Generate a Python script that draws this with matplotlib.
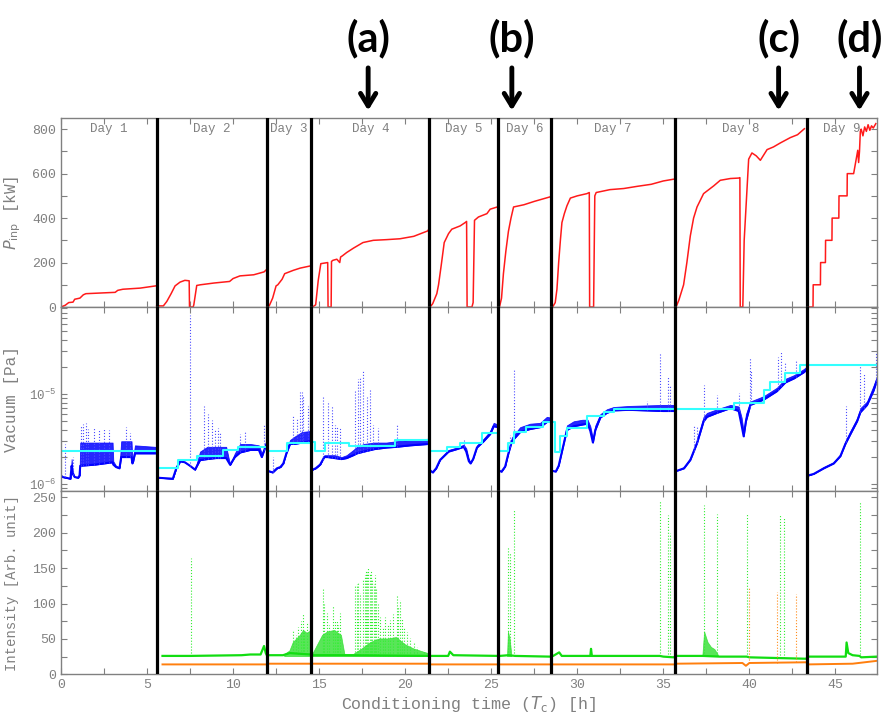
import numpy as np
import matplotlib.pyplot as plt
from matplotlib.ticker import MultipleLocator, LogLocator, NullFormatter

plt.rcParams['font.family'] = ['Liberation Mono', 'DejaVu Sans Mono']
plt.rcParams['xtick.direction'] = 'in'
plt.rcParams['ytick.direction'] = 'in'

grey = '#808080'

# day boundaries [h] and names
day_edges = [5.56, 11.96, 14.55, 21.4, 25.42, 28.47, 35.66, 43.35]
day_names = ['Day 1', 'Day 2', 'Day 3', 'Day 4', 'Day 5', 'Day 6', 'Day 7', 'Day 8', 'Day 9']
t_end = 47.4

# input power [kW]
power_t = [0, 0.25, 0.45, 0.7, 0.8, 1.1, 1.3, 1.45, 2.3, 3.15, 3.3, 3.6, 4.6, 5.5,
           5.56, 5.95, 6.15, 6.4, 6.63, 6.92, 7.2, 7.45, 7.47, 7.68, 7.72, 7.89, 8.1, 8.9, 9.8, 10.0, 10.4, 11.2, 11.8, 11.94,
           12.0, 12.1, 12.3, 12.5, 12.6, 12.75, 12.85, 13.0, 13.5, 13.9, 14.5,
           14.62, 14.8, 14.95, 15.1, 15.5, 15.52, 15.7, 15.72, 15.8, 16.03, 16.2, 16.25, 16.35, 16.6, 17.0, 17.55, 18.15, 18.9, 19.7, 20.5, 20.9, 21.3, 21.38,
           21.45, 21.6, 21.84, 21.94, 22.1, 22.27, 22.52, 22.71, 23.2, 23.49, 23.57, 23.6, 23.88, 23.95, 24.03, 24.26, 24.75, 24.94, 25.35,
           25.48, 25.6, 25.71, 25.85, 26.0, 26.15, 26.3, 26.9, 27.5, 28.4,
           28.57, 28.72, 28.82, 28.92, 29.02, 29.11, 29.25, 29.4, 29.6, 30.0, 30.56, 30.7, 30.72, 30.95, 31.02, 31.1, 31.9, 32.7, 33.5, 34.3, 35.0, 35.6,
           35.74, 35.9, 36.18, 36.37, 36.57, 36.76, 36.96, 37.34, 37.93, 38.31, 38.9, 39.38, 39.45, 39.47, 39.62, 39.7, 39.96, 40.15, 40.4, 40.64, 41.03, 41.4, 41.8, 42.38, 42.8, 43.2,
           43.42, 43.7, 43.71, 44.13, 44.14, 44.42, 44.43, 44.8, 44.81, 45.2, 45.21, 45.68, 45.69, 46.06, 46.3, 46.35, 46.4, 46.45, 46.5, 46.6, 46.7, 46.8, 46.9, 47.0, 47.1, 47.2, 47.35]
power_kw = [0, 8, 20, 22, 35, 40, 55, 60, 63, 66, 75, 80, 85, 95,
            5, 5, 25, 60, 95, 112, 120, 118, 0, 0, 10, 97, 100, 108, 115, 128, 140, 145, 158, 168,
            0, 5, 40, 95, 100, 115, 125, 150, 165, 175, 185,
            0, 10, 120, 195, 200, 0, 0, 205, 210, 215, 200, 225, 230, 245, 265, 290, 300, 303, 307, 318, 330, 342, 350,
            0, 15, 60, 100, 190, 290, 330, 350, 365, 380, 385, 0, 0, 20, 390, 405, 420, 440, 450,
            0, 40, 150, 250, 340, 400, 450, 460, 475, 495,
            0, 20, 80, 200, 300, 380, 420, 455, 490, 500, 510, 515, 0, 0, 500, 515, 528, 533, 543, 552, 567, 575,
            0, 30, 100, 200, 320, 400, 450, 510, 545, 570, 578, 580, 582, 0, 0, 300, 665, 693, 680, 660, 708, 720, 738, 762, 775, 802,
            0, 0, 100, 100, 200, 200, 300, 300, 400, 400, 500, 500, 600, 600, 705, 650, 700, 790, 800, 770, 810, 790, 820, 795, 815, 805, 825]

# vacuum, lower edge and upper edge of the noisy trace [1e-6 Pa]
vac_t = [0.0, 0.1, 0.55, 0.62, 0.68, 0.8, 1.0, 1.08, 1.12, 2.0, 3.0, 3.04, 3.2, 3.4, 3.5, 4.1, 4.15, 4.2, 4.3, 5.47,
         5.6, 6.5, 6.7, 6.93, 7.2, 7.5, 7.79, 8.08, 8.5, 9.0, 9.6, 9.83, 10.1, 10.41, 11.0, 11.5, 11.67, 11.94,
         12.05, 12.3, 12.55, 12.75, 12.92, 13.1, 13.31, 13.6, 14.0, 14.5,
         14.62, 14.8, 15.06, 15.3, 15.5, 15.9, 16.3, 16.6, 16.99, 17.2, 17.6, 18.2, 18.9, 19.5, 20.3, 21.38,
         21.5, 21.6, 21.8, 22.03, 22.52, 23.0, 23.4, 23.55, 23.7, 23.8, 23.95, 24.17, 24.56, 24.94, 25.14, 25.4,
         25.5, 25.6, 25.81, 26.0, 26.2, 26.68, 27.26, 27.84, 28.23, 28.45,
         28.6, 28.75, 28.92, 29.11, 29.4, 29.79, 30.3, 30.6, 30.76, 30.91, 31.05, 31.34, 31.72, 32.11, 33.0, 34.0, 35.0, 35.6,
         35.75, 36.2, 36.57, 36.96, 37.34, 37.54, 38.12, 38.9, 39.38, 39.55, 39.67, 39.8, 40.06, 40.83, 41.6, 42.09, 42.6, 43.16, 43.3,
         43.42, 43.74, 44.32, 44.9, 45.29, 45.58, 45.87, 46.26, 46.45, 46.84, 47.22, 47.4]
vac_lo = [1.25, 1.2, 1.15, 1.6, 1.3, 1.2, 1.18, 1.25, 1.6, 1.65, 1.75, 1.65, 1.55, 1.5, 2.0, 2.0, 1.7, 1.8, 2.2, 2.2,
          1.18, 1.15, 1.5, 1.8, 1.75, 1.6, 1.45, 1.85, 1.9, 1.95, 1.95, 1.64, 2.0, 2.25, 2.4, 2.4, 2.0, 2.8,
          1.4, 1.35, 1.5, 1.55, 1.7, 2.2, 2.8, 2.8, 2.9, 3.0,
          1.45, 1.5, 1.65, 2.0, 2.0, 1.95, 1.9, 1.95, 2.1, 2.2, 2.3, 2.45, 2.55, 2.6, 2.7, 2.8,
          1.4, 1.35, 1.5, 1.86, 2.3, 2.45, 2.6, 2.3, 1.8, 1.7, 1.9, 2.55, 3.0, 3.6, 4.4, 4.3,
          1.4, 1.38, 1.57, 2.2, 3.0, 3.8, 4.1, 4.3, 4.9, 5.0,
          1.4, 1.38, 1.6, 2.3, 4.0, 4.4, 4.6, 4.7, 3.9, 2.9, 4.0, 5.5, 6.2, 6.6, 6.7, 6.6, 6.5, 6.5,
          1.4, 1.5, 1.86, 2.86, 5.0, 5.6, 6.2, 7.0, 6.5, 4.5, 3.4, 5.0, 7.6, 8.7, 10.8, 13.5, 15.0, 17.5, 18.5,
          1.25, 1.3, 1.5, 1.7, 2.05, 2.8, 3.6, 5.0, 6.3, 7.6, 11.0, 14.0]
vac_hi = [1.25, 1.2, 1.15, 1.9, 1.4, 1.2, 1.18, 1.25, 2.9, 2.9, 2.9, 1.8, 1.6, 1.55, 3.0, 3.0, 1.8, 2.0, 2.7, 2.6,
          1.18, 1.15, 1.5, 1.8, 1.75, 1.6, 1.45, 2.3, 2.6, 2.6, 2.6, 1.64, 2.2, 2.8, 2.8, 2.7, 2.2, 2.8,
          1.4, 1.35, 1.5, 1.55, 1.7, 2.4, 3.1, 3.4, 3.8, 3.9,
          1.45, 1.5, 1.65, 2.1, 2.1, 2.1, 2.0, 2.1, 2.4, 2.6, 2.8, 2.9, 2.9, 3.0, 3.1, 3.2,
          1.4, 1.35, 1.5, 1.9, 2.4, 2.55, 2.75, 2.5, 1.9, 1.75, 2.0, 2.7, 3.2, 3.9, 4.8, 4.6,
          1.4, 1.38, 1.6, 2.3, 3.3, 4.3, 4.7, 4.8, 5.6, 5.5,
          1.4, 1.4, 1.65, 2.5, 4.5, 5.0, 5.2, 5.2, 4.4, 3.2, 4.5, 6.0, 6.8, 7.2, 7.4, 7.5, 7.6, 7.6,
          1.4, 1.55, 1.95, 3.1, 5.6, 6.2, 6.8, 7.6, 7.3, 5.5, 3.8, 6.0, 8.3, 9.5, 11.8, 14.8, 16.3, 19.0, 20.0,
          1.25, 1.32, 1.55, 1.75, 2.15, 3.0, 3.9, 5.4, 7.0, 8.3, 12.5, 15.5]

# pressure bursts
vac_spk_t = [0.21, 0.72, 1.15, 1.3, 1.45, 1.6, 1.9, 2.2, 2.5, 2.8, 3.8, 4.0,
             7.5, 8.31, 8.57, 8.76, 8.95, 9.1, 9.25, 10.41, 10.7, 11.8,
             12.35, 13.5, 13.7, 13.9, 13.99, 14.09, 14.38,
             15.2, 15.54, 15.74, 15.9, 16.03, 16.22, 17.09, 17.28, 17.38, 17.57, 17.76, 17.96, 18.16, 18.45, 19.52,
             23.4, 26.1, 26.3, 34.05, 34.82, 35.3, 35.4,
             36.76, 36.96, 37.34, 38.12, 39.38, 40.02, 40.1, 41.66, 41.86, 42.09, 42.73,
             45.64, 46.45, 46.65, 47.34]
vac_spk_top = [2.8, 2.0, 4.6, 4.7, 4.8, 4.1, 4.2, 4.0, 4.1, 4.0, 4.3, 3.7,
               75, 7.3, 6.0, 5.2, 4.0, 4.2, 3.8, 3.6, 3.8, 4.5,
               2.0, 5.9, 5.5, 10.7, 10.7, 9.5, 7.3,
               9.4, 8.5, 7.3, 4.5, 4.3, 4.2, 11.2, 14.9, 15.2, 18.3, 9.4, 11.5, 4.6, 4.2, 4.7,
               3.2, 3.5, 18.6, 8.5, 28.6, 15.7, 12.5,
               4.6, 4.4, 12.7, 9.8, 10.3, 25.1, 18.0, 26.2, 29.7, 23.0, 24.0,
               7.3, 22.0, 17.1, 28.6]

# interlock threshold (cyan), steps [1e-6 Pa]
thr_t = [0, 5.56, 6.82, 7.89, 9.44, 10.31, 11.96, 13.11, 14.55, 14.77, 15.35, 16.71, 19.42,
         21.4, 22.42, 23.2, 24.46, 25.42, 26.0, 26.3, 27.0, 28.0,
         28.47, 28.72, 29.0, 29.4, 30.56, 31.53, 32.11,
         35.66, 39.09, 40.83, 41.22, 42.09, 42.96, 43.35, 47.4]
thr_v = [2.34, 1.51, 1.86, 2.06, 2.37, 2.62, 2.34, 2.9, 2.95, 2.34, 2.9, 2.67, 3.1,
         2.34, 2.62, 2.9, 3.69, 2.34, 2.9, 3.8, 4.3, 4.9,
         4.97, 2.3, 3.39, 4.2, 5.65, 6.4, 6.9,
         6.9, 7.9, 11.2, 13.8, 17.1, 21.0, 21.2, 21.2]

# light intensity [arb. unit]
green_t = [5.9, 7.5, 10.5, 11.0, 11.6, 11.8, 11.9, 11.96,
           12.0, 12.9, 13.3, 14.5, 14.6, 16.5, 21.4,
           21.45, 22.5, 22.6, 22.8, 25.4, 25.5, 26.0, 26.4, 28.4,
           28.6, 28.95, 29.1, 30.76, 30.8, 30.85, 34.8, 35.0, 35.6,
           35.74, 37.3, 38.3, 39.85, 40.0, 43.3,
           43.4, 45.6, 45.65, 45.75, 46.0, 46.4, 46.5, 47.4]
green_v = [26, 26, 27, 28, 28, 40, 30, 27,
           27, 27, 30, 28, 27, 27, 26,
           26, 26, 32, 27, 26, 26, 27, 26, 25,
           26, 31, 26, 26, 36, 26, 26, 25, 24,
           26, 26, 25, 25, 24, 22,
           25, 25, 45, 30, 27, 26, 24, 25]
green_env_t = [13.0, 13.3, 13.5, 13.7, 13.9, 14.1, 14.3, 14.55, np.nan,
               14.62, 15.2, 15.5, 15.9, 16.3, 16.5, 17.0, 17.5, 18.0, 18.5, 19.0, 19.5, 20.0, 20.5, 21.0, 21.4, np.nan,
               25.95, 26.0, 26.1, 26.2, np.nan,
               37.3, 37.4, 37.6, 37.8, 38.0, 38.2]
green_env_hi = [28, 33, 45, 50, 55, 62, 58, 62, np.nan,
                28, 55, 60, 62, 55, 28, 28, 36, 45, 50, 50, 52, 42, 36, 32, 29, np.nan,
                27, 60, 50, 27, np.nan,
                27, 60, 45, 38, 35, 27]
green_spk_t = [7.55,
               13.5, 13.65, 13.8, 13.95, 14.05, 14.15, 14.28, 14.48,
               15.21, 15.3, 15.45, 15.6, 15.83, 15.9, 16.03, 16.1, 16.22, 17.09, 17.2, 17.28, 17.4, 17.57, 17.65, 17.7, 17.77,
               17.87, 17.96, 18.03, 18.1, 18.18, 18.26, 18.33, 18.4, 18.55, 18.7, 18.84, 19.0, 19.13, 19.3, 19.52, 19.6, 19.71, 19.8, 19.91,
               20.1, 20.29, 20.5, 20.68, 21.07,
               26.0, 26.08, 26.3, 34.82, 35.3, 35.4,
               37.34, 38.12, 39.86, 41.77, 42.03, 46.45]
green_spk_top = [165,
                 63, 55, 67, 75, 87, 60, 72, 74,
                 121, 100, 86, 70, 96, 75, 77, 70, 86, 125, 128, 131, 115, 133, 140, 147, 145,
                 150, 143, 148, 135, 128, 140, 120, 100, 81, 65, 81, 70, 77, 85, 112, 95, 105, 80, 67,
                 60, 51, 45, 39, 34,
                 180, 173, 233, 246, 225, 199,
                 239, 227, 228, 225, 222, 245]

orange_t = [5.9, 11.96, 12.0, 21.4, 21.45, 35.66, 35.74, 39.6, 39.8, 40.0, 43.3, 43.4, 46.0, 47.4]
orange_v = [14, 14, 15, 15, 14, 14, 15, 16, 12, 16, 17, 14, 15, 19]
orange_spk_t = [40.0, 41.62, 42.69]
orange_spk_top = [123, 117, 113]

# marks above the figure
mark_labels = ['(a)', '(b)', '(c)', '(d)']
mark_t = [17.85, 26.2, 41.7, 46.4]


def split_days(t, *vals):
    # cut a series at the day boundaries so that days are not joined
    t = np.asarray(t, dtype=float)
    idx = np.searchsorted(t, day_edges)
    return [np.split(t, idx)] + [np.split(np.asarray(v, dtype=float), idx) for v in vals]


fig = plt.figure(figsize=(8.86, 7.15), dpi=100)
ax1 = fig.add_axes([0.0688, 0.5706, 0.9207, 0.2643])
ax2 = fig.add_axes([0.0688, 0.3133, 0.9207, 0.2573])
ax3 = fig.add_axes([0.0688, 0.0569, 0.9207, 0.2564])

# power
pt, pv = split_days(power_t, power_kw)
for a, b in zip(pt, pv):
    ax1.plot(a, b, color='#ff1a1a', lw=1.1)
ax1.set_ylim(0, 850)
ax1.yaxis.set_major_locator(MultipleLocator(200))
ax1.yaxis.set_minor_locator(MultipleLocator(100))
ax1.set_ylabel(r'$P_{\rm inp}$ [kW]', color=grey, fontsize=11.5)
edges = [0] + day_edges + [t_end]
for i in range(len(day_names)):
    ax1.text((edges[i] + edges[i + 1]) / 2, 0.94, day_names[i], transform=ax1.get_xaxis_transform(),
             ha='center', va='center', color=grey, fontsize=9)

# vacuum
vt, vl, vh = split_days(vac_t, vac_lo, vac_hi)
for a, b, c in zip(vt, vl, vh):
    ax2.fill_between(a, b * 1e-6, c * 1e-6, color='#0000ff', lw=0.6, alpha=0.85)
    ax2.plot(a, b * 1e-6, color='#0000ff', lw=1.5)
spk_bot = np.interp(vac_spk_t, vac_t, vac_lo) * 1e-6
ax2.vlines(vac_spk_t, spk_bot, np.array(vac_spk_top) * 1e-6, colors='#4d4dff', lw=0.8, linestyles=':')
ax2.step(thr_t, np.array(thr_v) * 1e-6, where='post', color='#33ffff', lw=1.5)
ax2.set_yscale('log')
ax2.set_ylim(8.4e-7, 9.3e-5)
ax2.yaxis.set_major_locator(LogLocator(base=10))
ax2.yaxis.set_minor_locator(LogLocator(base=10, subs=np.arange(2, 10)))
ax2.yaxis.set_minor_formatter(NullFormatter())
ax2.set_ylabel('Vacuum [Pa]', color=grey, fontsize=11.5)

# intensity
ax3.fill_between(green_env_t, 25, green_env_hi, color='#22dd22', lw=0.5, alpha=0.75)
ax3.vlines(green_spk_t, np.interp(green_spk_t, green_t, green_v), green_spk_top,
           colors='#33ee33', lw=0.8, linestyles=':')
ax3.plot(green_t, green_v, color='#11dd11', lw=1.6)
ax3.vlines(orange_spk_t, np.interp(orange_spk_t, orange_t, orange_v), orange_spk_top,
           colors='#ff8c1a', lw=0.8, linestyles=':')
ax3.plot(orange_t, orange_v, color='#ff7f0e', lw=1.4)
ax3.set_ylim(0, 259)
ax3.yaxis.set_major_locator(MultipleLocator(50))
ax3.yaxis.set_minor_locator(MultipleLocator(25))
ax3.set_ylabel('Intensity [Arb. unit]', color=grey, fontsize=10)
ax3.set_xlabel(r'Conditioning time ($T_{\rm c}$) [h]', color=grey, fontsize=12, labelpad=2)

for ax in [ax1, ax2, ax3]:
    ax.set_xlim(0, t_end)
    ax.xaxis.set_major_locator(MultipleLocator(5))
    ax.xaxis.set_minor_locator(MultipleLocator(2.5))
    ax.tick_params(which='both', top=True, right=True, colors=grey, labelcolor=grey,
                   labelsize=9.5, length=4, width=0.8)
    for s in ax.spines.values():
        s.set_color(grey)
        s.set_linewidth(1.0)
    for x in day_edges:
        ax.axvline(x, color='k', lw=2.3, zorder=5)
ax2.tick_params(axis='y', labelsize=9)
ax1.yaxis.set_label_coords(-0.046, 0.5)
ax2.yaxis.set_label_coords(-0.052, 0.5)
ax3.yaxis.set_label_coords(-0.052, 0.5)
ax1.tick_params(labelbottom=False)
ax2.tick_params(labelbottom=False)

for lab, x in zip(mark_labels, mark_t):
    ax1.annotate('', xy=(x, 1.025), xytext=(x, 1.28), xycoords=('data', 'axes fraction'),
                 textcoords=('data', 'axes fraction'),
                 arrowprops=dict(arrowstyle='->,head_length=0.9,head_width=0.55', lw=3.5, color='k'),
                 annotation_clip=False)
    ax1.text(x, 1.42, lab, transform=ax1.get_xaxis_transform(), ha='center', va='center',
             fontsize=30, fontweight='bold', family=['Lato', 'DejaVu Sans'])

plt.savefig('out.png', dpi=100)
